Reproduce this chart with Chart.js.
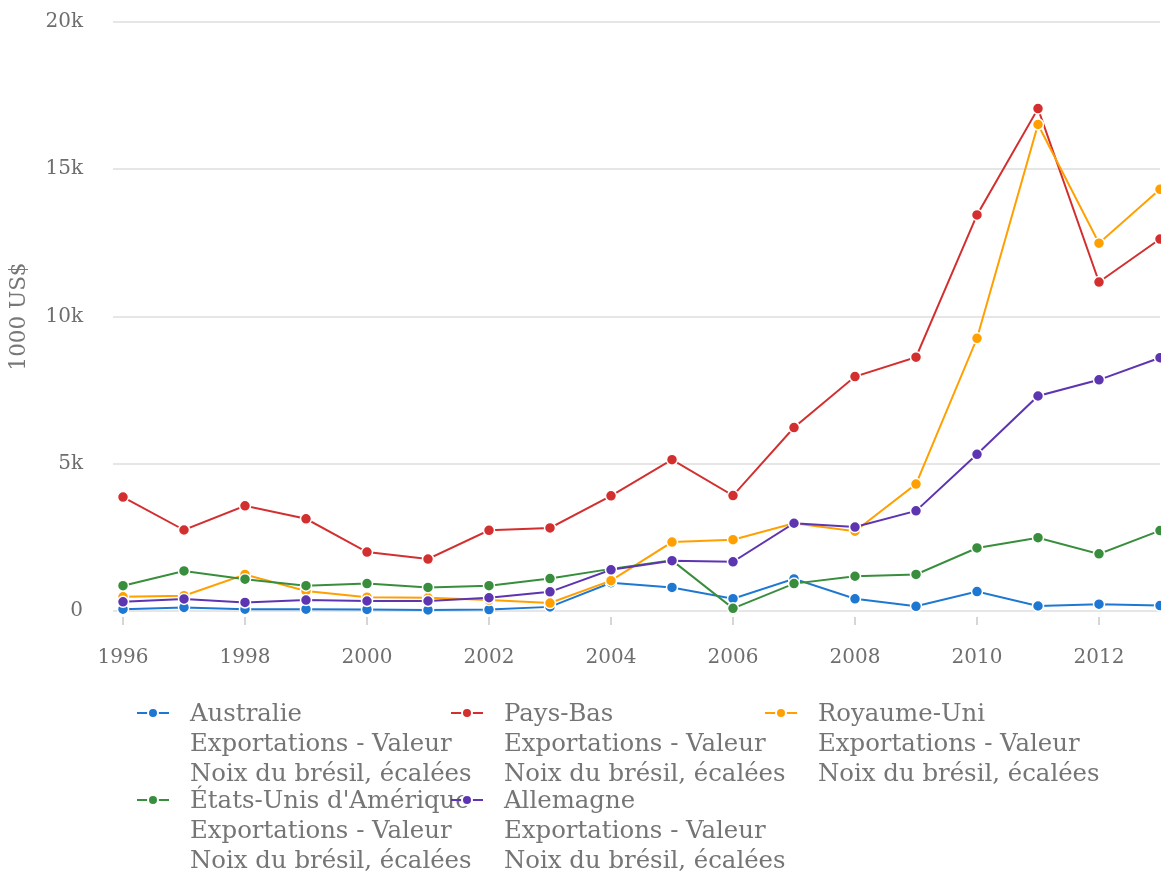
<!DOCTYPE html>
<html lang="fr">
<head>
<meta charset="utf-8">
<title>Noix du brésil, écalées</title>
<script src="https://cdn.jsdelivr.net/npm/chart.js@4.4.1/dist/chart.umd.min.js"></script>
<style>
  html, body { margin: 0; padding: 0; background: #fff; overflow: hidden; }
  #wrap { position: relative; width: 1161px; height: 871px; }
  #chartBox { position: absolute; left: 0; top: 0; width: 1161px; height: 690px; }
  #legend { position: absolute; left: 0; top: 0; width: 1161px; height: 871px;
            font-family: "DejaVu Serif", serif; font-size: 24.4px; color: #757575; }
  .item { position: absolute; }
  .item svg { position: absolute; left: 0; top: 8px; }
  .item .txt { position: absolute; left: 53px; top: 0; white-space: nowrap; line-height: 30px; }
</style>
</head>
<body>
<div id="wrap">
  <div id="chartBox"><canvas id="exportChart"></canvas></div>
  <div id="legend"></div>
</div>
<script>
// années
const years = [1996, 1997, 1998, 1999, 2000, 2001, 2002, 2003, 2004,
               2005, 2006, 2007, 2008, 2009, 2010, 2011, 2012, 2013];

// valeurs en 1000 US$
const australie  = [60, 120, 60, 60, 55, 35, 50, 140, 960, 800, 420, 1090, 415, 160, 660, 170, 230, 185];
const paysBas    = [3870, 2750, 3570, 3130, 2000, 1765, 2740, 2820, 3910, 5140, 3920, 6230, 7960, 8620, 13450, 17060, 11170, 12630];
const royaumeUni = [480, 520, 1240, 680, 470, 450, 370, 270, 1030, 2340, 2420, 2980, 2710, 4310, 9260, 16520, 12490, 14320];
const etatsUnis  = [860, 1360, 1080, 860, 930, 800, 860, 1100, 1430, 1720, 90, 930, 1180, 1240, 2140, 2490, 1940, 2730];
const allemagne  = [310, 410, 290, 370, 340, 340, 450, 650, 1400, 1710, 1670, 2980, 2850, 3400, 5320, 7300, 7850, 8600];

const seriesNames = ['Australie', 'Pays-Bas', 'Royaume-Uni', "États-Unis d'Amérique", 'Allemagne'];
const seriesValues = [australie, paysBas, royaumeUni, etatsUnis, allemagne];
const seriesColors = ['#1e78d2', '#d32f2f', '#ffa000', '#388e3c', '#5e35b1'];
const subLines = ['Exportations - Valeur', 'Noix du brésil, écalées'];

const yTickValues = [0, 5000, 10000, 15000, 20000];
const yTickLabels = ['0', '5k', '10k', '15k', '20k'];

const serif = 'DejaVu Serif';

const datasets = seriesNames.map((name, i) => ({
  label: name,
  data: years.map((yr, j) => ({ x: yr, y: seriesValues[i][j] })),
  borderColor: seriesColors[i],
  backgroundColor: seriesColors[i],
  borderWidth: 2,
  pointRadius: 5.5,
  pointHoverRadius: 5.5,
  pointBorderColor: '#fff',
  pointBorderWidth: 1.5,
  pointBackgroundColor: seriesColors[i],
  tension: 0,
  clip: false,
  order: seriesNames.length - i
}));

// pas de marge automatique autour des axes
const noAutoPadding = s => {
  s.paddingTop = 0; s.paddingBottom = 0; s.paddingLeft = 0; s.paddingRight = 0;
};

const ctx = document.getElementById('exportChart').getContext('2d');
const chart = new Chart(ctx, {
  type: 'line',
  data: { datasets: datasets },
  options: {
    responsive: true,
    maintainAspectRatio: false,
    animation: false,
    layout: { autoPadding: false, padding: { top: 22, right: 1, bottom: 0, left: 0 } },
    plugins: {
      legend: { display: false },
      tooltip: { enabled: false }
    },
    scales: {
      x: {
        type: 'linear',
        min: 1996,
        max: 2013,
        border: { display: false },
        grid: {
          drawOnChartArea: false,
          tickLength: 14,
          tickBorderDash: [0, 6, 8, 100],
          color: '#d6d6d6',
          lineWidth: 2
        },
        ticks: {
          stepSize: 2,
          includeBounds: false,
          padding: 21,
          color: '#6e6e6e',
          font: { family: serif, size: 20 },
          callback: v => String(v)
        },
        afterFit: s => { s.height = 79; noAutoPadding(s); }
      },
      y: {
        min: 0,
        max: 20000,
        border: { display: false },
        grid: { color: '#e6e6e6', lineWidth: 2, tickLength: 10 },
        ticks: {
          stepSize: 5000,
          padding: 30,
          color: '#6e6e6e',
          font: { family: serif, size: 20 },
          callback: v => yTickLabels[yTickValues.indexOf(v)]
        },
        title: {
          display: true,
          text: '1000 US$',
          color: '#777777',
          font: { family: serif, size: 21.5 },
          padding: { top: 7, bottom: 0 }
        },
        afterFit: s => { s.width = 123; noAutoPadding(s); }
      }
    }
  }
});

// légende en colonnes
const legend = document.getElementById('legend');
seriesNames.forEach((name, i) => {
  const col = i % 3, row = Math.floor(i / 3);
  const item = document.createElement('div');
  item.className = 'item';
  item.style.left = (137 + col * 314) + 'px';
  item.style.top = (698 + row * 87) + 'px';
  const c = seriesColors[i];
  item.innerHTML =
    '<svg width="32" height="14" viewBox="0 0 32 14">' +
    '<line x1="0" y1="7" x2="32" y2="7" stroke="' + c + '" stroke-width="2"/>' +
    '<circle cx="16" cy="7" r="5" fill="' + c + '" stroke="#fff" stroke-width="2"/>' +
    '</svg>' +
    '<div class="txt">' + [name].concat(subLines).join('<br>') + '</div>';
  legend.appendChild(item);
});
</script>
</body>
</html>
